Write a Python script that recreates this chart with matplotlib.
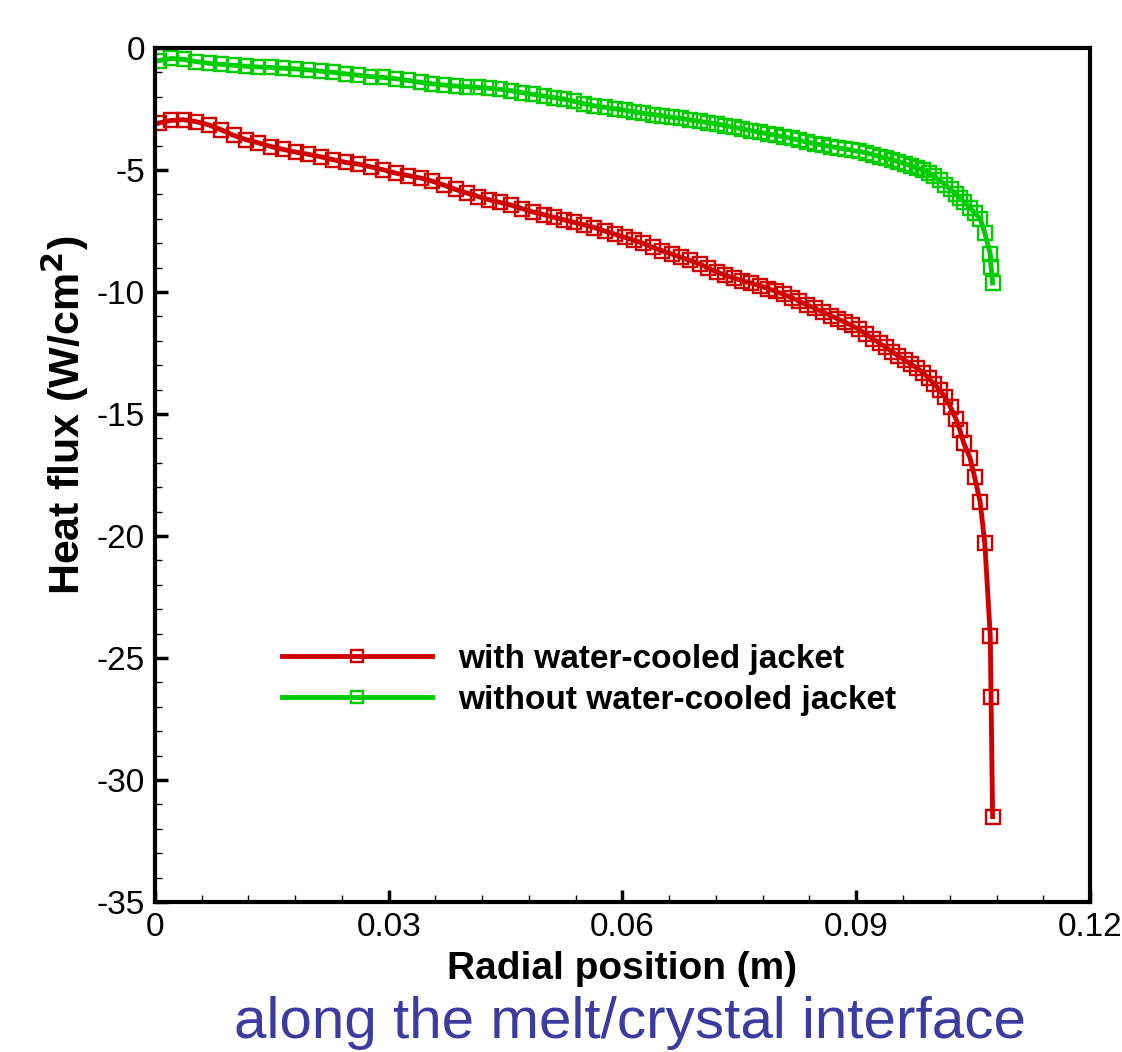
import numpy as np
import matplotlib.pyplot as plt
from matplotlib.ticker import MultipleLocator

plt.rcParams['font.family'] = ['Liberation Sans', 'DejaVu Sans']

# radial positions of the mesh nodes along the interface (m)
r = [0.0005, 0.0021, 0.0037, 0.0053, 0.0069, 0.0085, 0.0101, 0.0117, 0.0133, 0.0149,
     0.0165, 0.0181, 0.0197, 0.0213, 0.0229, 0.0245, 0.0261, 0.0277, 0.0293, 0.0309,
     0.0325, 0.0341, 0.0356, 0.0371, 0.0386, 0.0401, 0.0415, 0.0429, 0.0443, 0.0457,
     0.0471, 0.0485, 0.0499, 0.0512, 0.0525, 0.0538, 0.0551, 0.0564, 0.0577, 0.0590,
     0.0603, 0.0615, 0.0627, 0.0639, 0.0651, 0.0663, 0.0675, 0.0687, 0.0699, 0.0710,
     0.0721, 0.0732, 0.0743, 0.0754, 0.0765, 0.0776, 0.0787, 0.0797, 0.0807, 0.0817,
     0.0827, 0.0837, 0.0847, 0.0857, 0.0867, 0.0876, 0.0885, 0.0894, 0.0903, 0.0912,
     0.0921, 0.0930, 0.0938, 0.0946, 0.0954, 0.0962, 0.0970, 0.0978, 0.0986, 0.0993,
     0.1000, 0.1007, 0.1014, 0.1021, 0.1028, 0.1033, 0.1038, 0.1046, 0.1052, 0.1059,
     0.1065, 0.1072, 0.1073, 0.1075]

# heat flux with water-cooled jacket (W/cm2)
q_with = [-3.08, -2.97, -2.94, -3.02, -3.15, -3.35, -3.58, -3.76, -3.89, -4.04,
          -4.16, -4.27, -4.36, -4.46, -4.58, -4.69, -4.76, -4.87, -4.99, -5.13,
          -5.23, -5.33, -5.46, -5.62, -5.80, -5.95, -6.09, -6.22, -6.33, -6.44,
          -6.58, -6.72, -6.83, -6.94, -7.04, -7.15, -7.25, -7.36, -7.50, -7.63,
          -7.76, -7.88, -8.01, -8.17, -8.31, -8.44, -8.58, -8.71, -8.85, -9.02,
          -9.18, -9.32, -9.43, -9.54, -9.64, -9.74, -9.86, -9.98, -10.10, -10.23,
          -10.38, -10.53, -10.67, -10.82, -10.97, -11.10, -11.23, -11.37, -11.52, -11.72,
          -11.91, -12.10, -12.27, -12.45, -12.62, -12.79, -12.96, -13.12, -13.32, -13.53,
          -13.77, -14.02, -14.30, -14.72, -15.20, -15.66, -16.19, -16.80, -17.60, -18.60,
          -20.30, -24.10, -26.60, -31.50]

# heat flux without water-cooled jacket (W/cm2)
q_without = [-0.52, -0.43, -0.47, -0.56, -0.63, -0.67, -0.71, -0.75, -0.78, -0.80,
             -0.83, -0.86, -0.90, -0.95, -1.00, -1.06, -1.12, -1.17, -1.21, -1.26,
             -1.33, -1.41, -1.47, -1.52, -1.56, -1.59, -1.62, -1.65, -1.69, -1.75,
             -1.83, -1.90, -1.97, -2.03, -2.10, -2.19, -2.29, -2.37, -2.43, -2.49,
             -2.55, -2.62, -2.68, -2.73, -2.78, -2.84, -2.89, -2.95, -3.01, -3.06,
             -3.12, -3.18, -3.25, -3.32, -3.39, -3.46, -3.52, -3.58, -3.64, -3.71,
             -3.79, -3.86, -3.92, -3.98, -4.04, -4.09, -4.14, -4.19, -4.24, -4.29,
             -4.37, -4.45, -4.52, -4.59, -4.66, -4.74, -4.83, -4.92, -5.01, -5.13,
             -5.26, -5.42, -5.60, -5.80, -5.99, -6.13, -6.30, -6.55, -6.75, -7.00,
             -7.58, -8.44, -8.98, -9.63]

labels = ['with water-cooled jacket', 'without water-cooled jacket']
xticks = [0, 0.03, 0.06, 0.09, 0.12]
xticklabels = ['0', '0.03', '0.06', '0.09', '0.12']
yticks = [0, -5, -10, -15, -20, -25, -30, -35]
yticklabels = ['0', '-5', '-10', '-15', '-20', '-25', '-30', '-35']

fig = plt.figure(figsize=(11.22, 10.52), dpi=100)
ax = fig.add_axes([0.138, 0.1426, 0.8335, 0.8118])

ax.plot(r, q_with, color='#d00000', lw=3.5, marker='s', ms=10.5, mfc='none',
        mec='#d00000', mew=1.7, label=labels[0])
ax.plot(r, q_without, color='#00cc00', lw=3.5, marker='s', ms=10.5, mfc='none',
        mec='#00cc00', mew=1.7, label=labels[1])

ax.set_xlim(0, 0.12)
ax.set_ylim(-35, 0)
ax.set_xticks(xticks)
ax.set_xticklabels(xticklabels)
ax.set_yticks(yticks)
ax.set_yticklabels(yticklabels)
ax.xaxis.set_minor_locator(MultipleLocator(0.006))
ax.yaxis.set_minor_locator(MultipleLocator(1))
ax.tick_params(which='both', direction='in', top=False, right=False,
               labelsize=24, pad=7)
ax.tick_params(which='major', length=9, width=2.5)
ax.tick_params(which='minor', length=5, width=1)
for s in ax.spines.values():
    s.set_linewidth(3)

ax.set_xlabel('Radial position (m)', fontsize=28, fontweight='bold', labelpad=6)
ax.set_ylabel('Heat flux (W/cm$^\\mathbf{2}$)', fontsize=31, fontweight='bold')
ax.yaxis.set_label_coords(-0.068, 0.57)

leg = ax.legend(loc='upper left', bbox_to_anchor=(0.1358, 0.302), frameon=False,
                prop={'size': 24, 'weight': 'bold'}, handlelength=4.5,
                labelspacing=0.3, handletextpad=0.8, markerscale=0.85,
                borderpad=0, borderaxespad=0)

fig.text(0.5615, 0.028, 'along the melt/crystal interface', color='#3b3ba0',
         fontsize=42, ha='center', va='center')

fig.savefig('out.png', dpi=100)
